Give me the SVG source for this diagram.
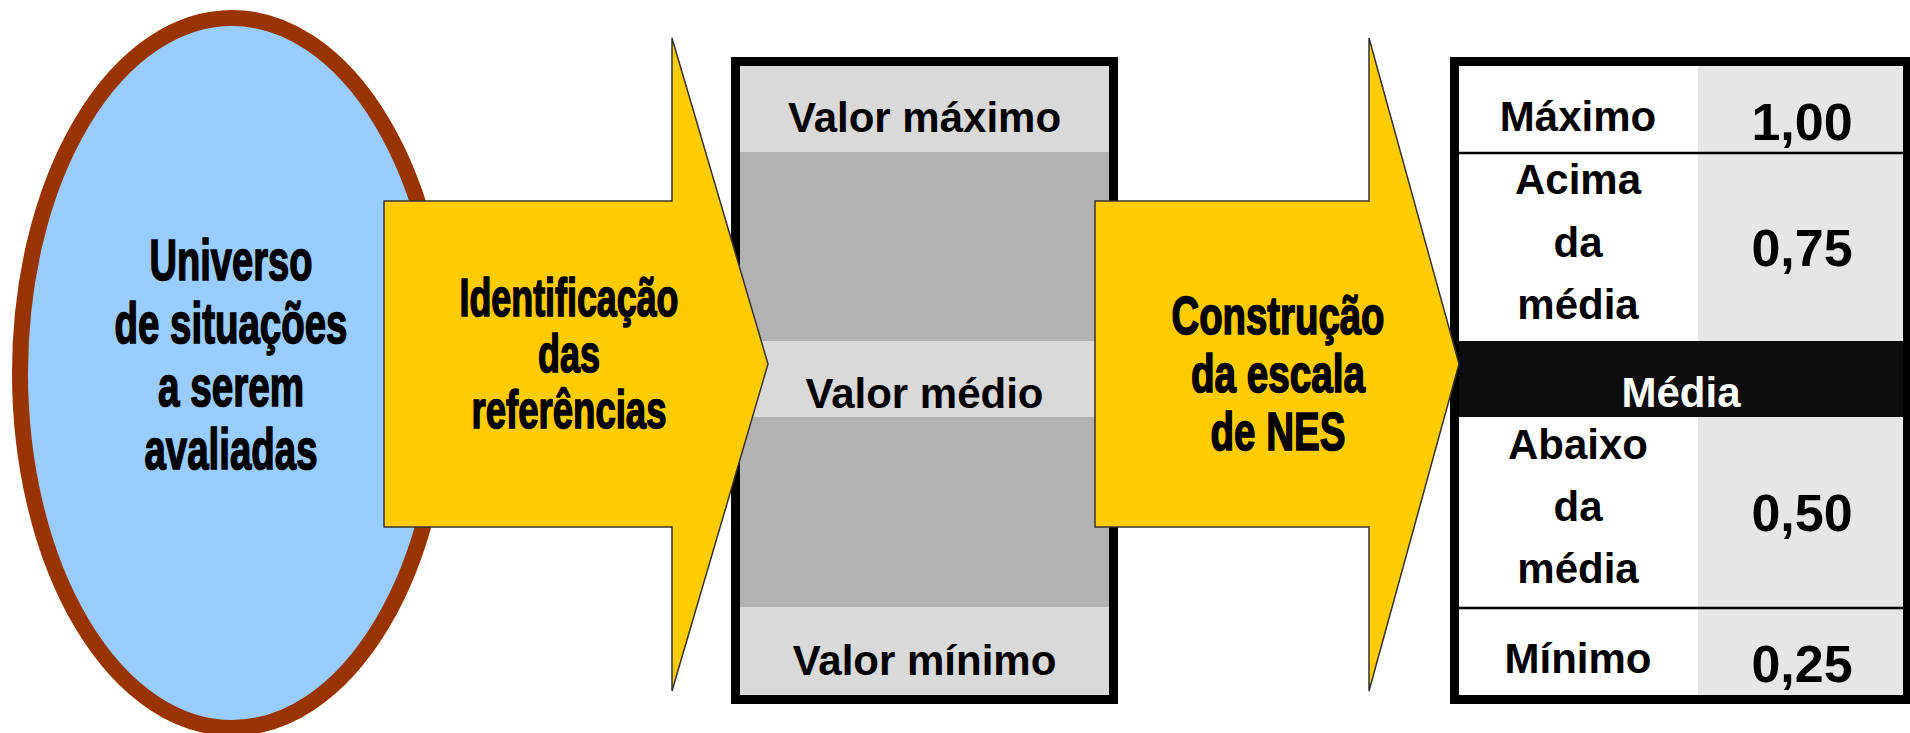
<svg xmlns="http://www.w3.org/2000/svg" width="1910" height="733" viewBox="0 0 1910 733">
<style>
.b{font-family:"Liberation Sans",Arial,sans-serif;font-weight:bold;text-anchor:middle;fill:#000}
.c{font-size:57px;stroke:#000;stroke-width:1.6}
.a{font-size:53px;stroke:#000;stroke-width:1.6}
.m{font-size:42px}
.v{font-size:52px}
.arrow{fill:#ffcc00;stroke:#333;stroke-width:1.5;stroke-linejoin:miter}
.frame{fill:none;stroke:#000;stroke-width:9}
</style>
<rect width="1910" height="733" fill="#fff"/>
<g id="universo">
<ellipse cx="232" cy="373" rx="212" ry="355" fill="#99ccff" stroke="#993300" stroke-width="16"/>
<text class="b c" x="231" y="280" textLength="163" lengthAdjust="spacingAndGlyphs">Universo</text>
<text class="b c" x="231" y="343" textLength="233" lengthAdjust="spacingAndGlyphs">de situações</text>
<text class="b c" x="231" y="406" textLength="146" lengthAdjust="spacingAndGlyphs">a serem</text>
<text class="b c" x="231" y="469" textLength="173" lengthAdjust="spacingAndGlyphs">avaliadas</text>
</g>
<g id="referencias">
<rect x="740" y="66" width="369" height="86" fill="#d9d9d9"/>
<rect x="740" y="152" width="369" height="189" fill="#b2b2b2"/>
<rect x="740" y="341" width="369" height="76" fill="#d9d9d9"/>
<rect x="740" y="417" width="369" height="190" fill="#b2b2b2"/>
<rect x="740" y="607" width="369" height="89" fill="#d9d9d9"/>
<rect class="frame" x="735.5" y="61.5" width="378" height="638"/>
<text class="b m" x="924.5" y="132">Valor máximo</text>
<text class="b m" x="924.5" y="408">Valor médio</text>
<text class="b m" x="924.5" y="675">Valor mínimo</text>
</g>
<g id="escala">
<rect x="1459" y="66" width="239" height="630" fill="#fff"/>
<rect x="1698" y="66" width="205" height="630" fill="#e6e6e6"/>
<rect x="1459" y="341" width="444" height="76" fill="#0d0d0d"/>
<line x1="1459" y1="153" x2="1903" y2="153" stroke="#000" stroke-width="2.5"/>
<line x1="1459" y1="608" x2="1903" y2="608" stroke="#000" stroke-width="2.5"/>
<rect class="frame" x="1454.5" y="61.5" width="453" height="638"/>
<text class="b m" x="1578" y="131">Máximo</text>
<text class="b v" x="1802" y="140">1,00</text>
<text class="b m" x="1578" y="194">Acima</text>
<text class="b m" x="1578" y="257">da</text>
<text class="b m" x="1578" y="319">média</text>
<text class="b v" x="1802" y="266">0,75</text>
<text class="b m" x="1681" y="407" style="fill:#fff">Média</text>
<text class="b m" x="1578" y="459">Abaixo</text>
<text class="b m" x="1578" y="521">da</text>
<text class="b m" x="1578" y="583">média</text>
<text class="b v" x="1802" y="531">0,50</text>
<text class="b m" x="1578" y="673">Mínimo</text>
<text class="b v" x="1802" y="682">0,25</text>
</g>
<g id="connectors">
<g id="seta-identificacao">
<path class="arrow" d="M384,201 H672 V38 L768,364 L672,691 V527 H384 Z"/>
<text class="b a" x="569" y="316" textLength="219" lengthAdjust="spacingAndGlyphs">Identificação</text>
<text class="b a" x="569" y="372" textLength="62" lengthAdjust="spacingAndGlyphs">das</text>
<text class="b a" x="569" y="428" textLength="195" lengthAdjust="spacingAndGlyphs">referências</text>
</g>
<g id="seta-construcao">
<path class="arrow" d="M1095,201 H1369 V38 L1459,364 L1369,691 V527 H1095 Z"/>
<text class="b a" x="1278" y="334" textLength="213" lengthAdjust="spacingAndGlyphs">Construção</text>
<text class="b a" x="1278" y="392" textLength="174" lengthAdjust="spacingAndGlyphs">da escala</text>
<text class="b a" x="1278" y="450" textLength="135" lengthAdjust="spacingAndGlyphs">de NES</text>
</g>
</g>
</svg>
